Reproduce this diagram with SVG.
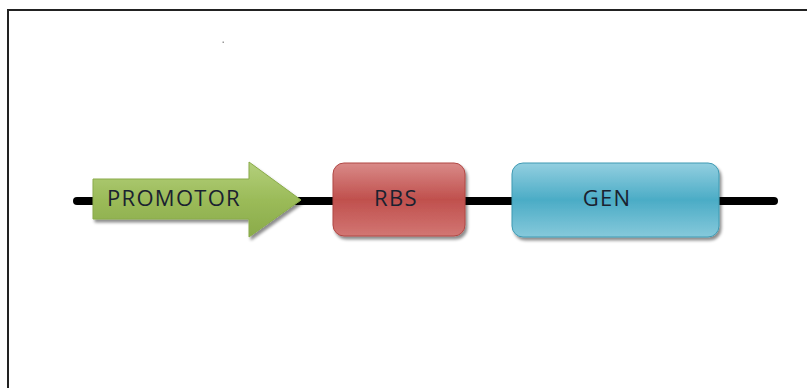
<svg xmlns="http://www.w3.org/2000/svg" width="807" height="388" viewBox="0 0 807 388">
<style>
.lbl{font-family:"Open Sans","Liberation Sans",sans-serif;font-size:22px;letter-spacing:1.3px;fill:#1a2230;text-anchor:middle}
</style>
<defs>
<linearGradient id="gG" x1="0" y1="0" x2="0" y2="1">
<stop offset="0" stop-color="#b4d07c"/><stop offset="0.5" stop-color="#9bbb59"/><stop offset="1" stop-color="#8aab4a"/>
</linearGradient>
<linearGradient id="gR" x1="0" y1="0" x2="0" y2="1">
<stop offset="0" stop-color="#d98a88"/><stop offset="0.5" stop-color="#c0504d"/><stop offset="1" stop-color="#d27673"/>
</linearGradient>
<linearGradient id="gB" x1="0" y1="0" x2="0" y2="1">
<stop offset="0" stop-color="#93cfe0"/><stop offset="0.5" stop-color="#4bacc6"/><stop offset="1" stop-color="#86c9db"/>
</linearGradient>
<filter id="sh" x="-10%" y="-10%" width="130%" height="140%">
<feDropShadow dx="2" dy="3" stdDeviation="1.5" flood-color="#000" flood-opacity="0.45"/>
</filter>
</defs>
<rect width="807" height="388" fill="#fff"/>
<rect x="8" y="10" width="820" height="400" fill="none" stroke="#222" stroke-width="2"/>
<rect x="222.5" y="41.5" width="1.5" height="1.5" fill="#999"/>
<g id="connectors">
<line x1="77" y1="201" x2="774" y2="201" stroke="#000" stroke-width="8" stroke-linecap="round"/>
</g>
<g id="promotor">
<path d="M93 179 H249 V162 L301 200 L249 237 V219 H93 Z" fill="url(#gG)" stroke="#8aab4a" stroke-width="1" filter="url(#sh)"/>
<text class="lbl" x="174" y="206">PROMOTOR</text>
</g>
<g id="rbs">
<rect x="333" y="163" width="132" height="73" rx="11" fill="url(#gR)" stroke="#b04845" stroke-width="1" filter="url(#sh)"/>
<text class="lbl" x="396" y="206">RBS</text>
</g>
<g id="gen">
<rect x="512" y="163" width="207" height="74" rx="11" fill="url(#gB)" stroke="#3f9ab3" stroke-width="1" filter="url(#sh)"/>
<text class="lbl" x="607" y="206">GEN</text>
</g>
</svg>
